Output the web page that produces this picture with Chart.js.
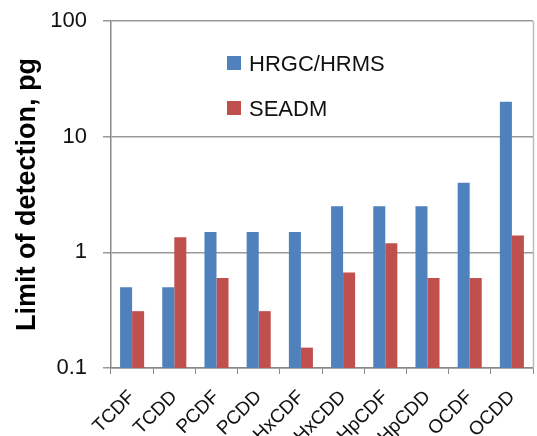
<!DOCTYPE html>
<html>
<head>
<meta charset="utf-8">
<script src="https://cdn.jsdelivr.net/npm/chart.js@4"></script>
<style>
  html, body { margin: 0; padding: 0; background: #fff; }
  #wrap { width: 537px; height: 436px; }
</style>
</head>
<body>
<div id="wrap"><canvas id="lodChart" width="537" height="436"></canvas></div>
<script>
// --- Data ---
const categories = ['TCDF', 'TCDD', 'PCDF', 'PCDD', 'HxCDF', 'HxCDD', 'HpCDF', 'HpCDD', 'OCDF', 'OCDD'];
const hrgcValues = [0.5, 0.5, 1.5, 1.5, 1.5, 2.5, 2.5, 2.5, 4, 20];
const seadmValues = [0.31, 1.35, 0.6, 0.31, 0.15, 0.67, 1.2, 0.6, 0.6, 1.4];
const yTickValues = [0.1, 1, 10, 100];
const seriesNames = ['HRGC/HRMS', 'SEADM'];

const FONT = '"Liberation Sans", Arial, sans-serif';

// Legend drawn inside the plot area, plus the light right border
const insideLegend = {
    id: 'insideLegend',
    afterDraw(chart) {
        const ctx = chart.ctx;
        const area = chart.chartArea;
        ctx.save();
        ctx.strokeStyle = '#bbbbbb';
        ctx.lineWidth = 1.5;
        ctx.beginPath();
        ctx.moveTo(area.right + 0.5, area.top);
        ctx.lineTo(area.right + 0.5, area.bottom);
        ctx.stroke();

        const rows = [56, 101];
        ctx.font = '22px ' + FONT;
        ctx.textBaseline = 'alphabetic';
        chart.data.datasets.forEach((ds, i) => {
            ctx.fillStyle = ds.backgroundColor;
            ctx.fillRect(227, rows[i], 14, 14);
            ctx.fillStyle = '#111';
            ctx.fillText(ds.label, 249, rows[i] + 15);
        });
        ctx.restore();
    }
};

new Chart(document.getElementById('lodChart'), {
    type: 'bar',
    data: {
        labels: categories,
        datasets: [{
            label: seriesNames[0],
            data: hrgcValues,
            backgroundColor: '#4F81BD',
            borderWidth: 0,
            categoryPercentage: 0.57,
            barPercentage: 1
        }, {
            label: seriesNames[1],
            data: seadmValues,
            backgroundColor: '#C0504D',
            borderWidth: 0,
            categoryPercentage: 0.57,
            barPercentage: 1
        }]
    },
    options: {
        responsive: false,
        animation: false,
        devicePixelRatio: 1,
        layout: { padding: { top: 21, right: 4, left: 0, bottom: 0 } },
        plugins: {
            legend: { display: false },
            tooltip: { enabled: false }
        },
        scales: {
            x: {
                grid: { drawOnChartArea: false, tickLength: 6, color: '#888', offset: true },
                border: { color: '#888', width: 1.5 },
                ticks: {
                    color: '#111',
                    font: { family: FONT, size: 19 },
                    maxRotation: 45,
                    minRotation: 45,
                    autoSkip: false,
                    padding: 12
                },
                afterFit(scale) {
                    scale.height = 68;
                    scale.paddingLeft = 0;
                    scale.paddingRight = 0;
                }
            },
            y: {
                type: 'logarithmic',
                min: 0.1,
                max: 100,
                afterBuildTicks(scale) {
                    scale.ticks = yTickValues.map(v => ({ value: v }));
                },
                grid: { color: '#999', lineWidth: 1.5, tickLength: 8 },
                border: { color: '#888', width: 1.5 },
                ticks: {
                    color: '#111',
                    padding: 16,
                    font: { family: FONT, size: 22 },
                    callback: v => String(v)
                },
                title: {
                    display: true,
                    text: 'Limit of detection, pg',
                    color: '#000',
                    font: { family: FONT, size: 27, weight: 'bold' },
                    padding: { top: 11, bottom: 0 }
                },
                afterFit(scale) {
                    scale.width = 111;
                    scale.paddingTop = 0;
                    scale.paddingBottom = 0;
                }
            }
        }
    },
    plugins: [insideLegend]
});
</script>
</body>
</html>
